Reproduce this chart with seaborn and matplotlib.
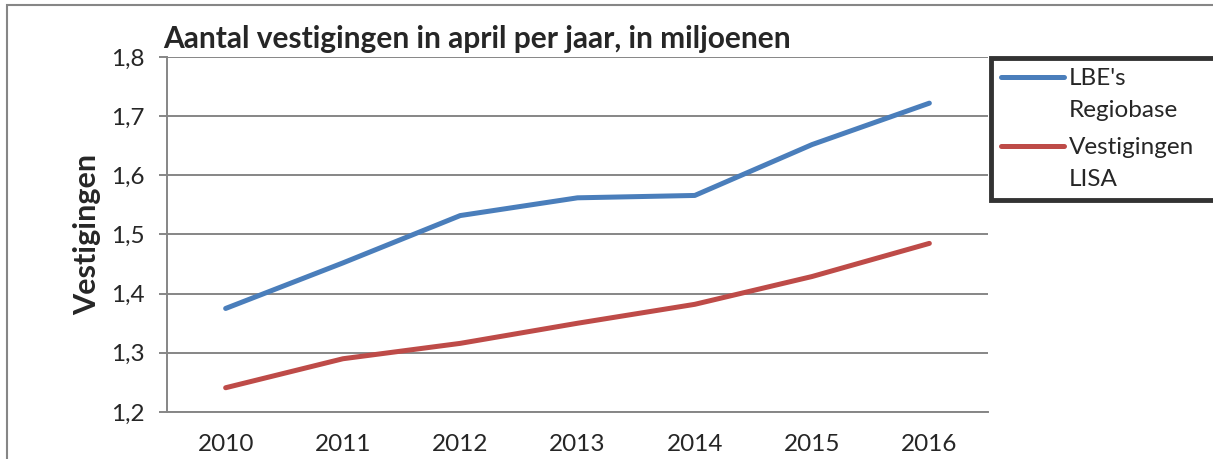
import numpy as np
import pandas as pd
import seaborn as sns
import matplotlib.pyplot as plt
from matplotlib.patches import Rectangle
from matplotlib.ticker import FuncFormatter
from matplotlib.legend_handler import HandlerLine2D

# data (x 1 mln)
jaren = ['2010', '2011', '2012', '2013', '2014', '2015', '2016']
lbe = [1.375, 1.452, 1.532, 1.562, 1.566, 1.652, 1.722]
lisa = [1.241, 1.290, 1.316, 1.350, 1.382, 1.429, 1.485]
reeksen = ["LBE's\nRegiobase", "Vestigingen\nLISA"]
kleuren = ['#4A7EBB', '#BE4B48']

df = pd.DataFrame({'jaar': np.arange(len(jaren)), reeksen[0]: lbe, reeksen[1]: lisa})
df = df.melt(id_vars='jaar', var_name='reeks', value_name='waarde')

sns.set_style('white')
plt.rcParams['font.family'] = ['Lato', 'DejaVu Sans']
grijs = '#868686'


# legend line next to the first text line, like excel does
class HandlerBoven(HandlerLine2D):
    def create_artists(self, legend, orig_handle, xdescent, ydescent, width, height, fontsize, trans):
        arts = super().create_artists(legend, orig_handle, xdescent, ydescent, width, height, fontsize, trans)
        for a in arts:
            a.set_ydata(np.asarray(a.get_ydata()) + 0.72 * fontsize)
            x = np.asarray(a.get_xdata(), dtype=float)
            if len(x) == 2:
                x[0] += 0.55 * fontsize
                a.set_xdata(x)
        return arts


fig = plt.figure(figsize=(12.13, 4.59), dpi=100)
ax = fig.add_axes([167/1213, 47/459, (988-167)/1213, (412-57)/459])

sns.lineplot(data=df, x='jaar', y='waarde', hue='reeks', palette=kleuren,
             lw=3.6, ax=ax, legend=False, solid_capstyle='round')

ax.set_ylim(1.2, 1.8)
ax.set_yticks(np.arange(1.2, 1.81, 0.1))
ax.yaxis.set_major_formatter(FuncFormatter(lambda v, p: f'{v:.1f}'.replace('.', ',')))
ax.grid(axis='y', color=grijs, lw=1.4)
ax.set_xlim(-0.5, len(jaren) - 0.5)
ax.set_xticks(range(len(jaren)))
ax.set_xticklabels(jaren)
ax.set_xticks(np.arange(-0.5, len(jaren), 1), minor=True)
ax.tick_params(axis='x', which='major', length=0, pad=16, labelsize=17.5)
ax.tick_params(axis='x', which='minor', length=6, width=1.4, color=grijs, direction='out')
ax.tick_params(axis='y', length=6, width=1.4, color=grijs, pad=10, labelsize=17.5, left=True)
for s in ['top', 'right']:
    ax.spines[s].set_visible(False)
for s in ['left', 'bottom']:
    ax.spines[s].set_color(grijs)
    ax.spines[s].set_linewidth(1.4)
ax.set_xlabel('')
ax.set_ylabel('Vestigingen', fontsize=22, fontweight='bold', labelpad=7)

fig.text(163/1213, 1 - 48/459, 'Aantal vestigingen in april per jaar, in miljoenen',
         fontsize=21.5, fontweight='bold', ha='left', va='baseline')

handles = [plt.Line2D([], [], color=k, lw=3.6, solid_capstyle='round') for k in kleuren]
leg = fig.legend(handles, reeksen, loc='upper left',
                 bbox_to_anchor=(991/1213, 1 - 200/459, 0.3, 142/459),
                 mode='expand', fontsize=17.5, frameon=True, fancybox=False,
                 handlelength=2.6, handletextpad=0.2, borderaxespad=0,
                 labelspacing=0.68, borderpad=0.4,
                 handler_map={plt.Line2D: HandlerBoven()})
for t in leg.get_texts():
    t.set_linespacing(1.65)
leg.get_frame().set_edgecolor('black')
leg.get_frame().set_linewidth(3.5)

# outer chart frame
fig.add_artist(Rectangle((7/1213, -0.2), 1.2, 1.2 - 5/459, transform=fig.transFigure,
                         fill=False, edgecolor=grijs, lw=1.5))

fig.savefig('out.png', dpi=100)
